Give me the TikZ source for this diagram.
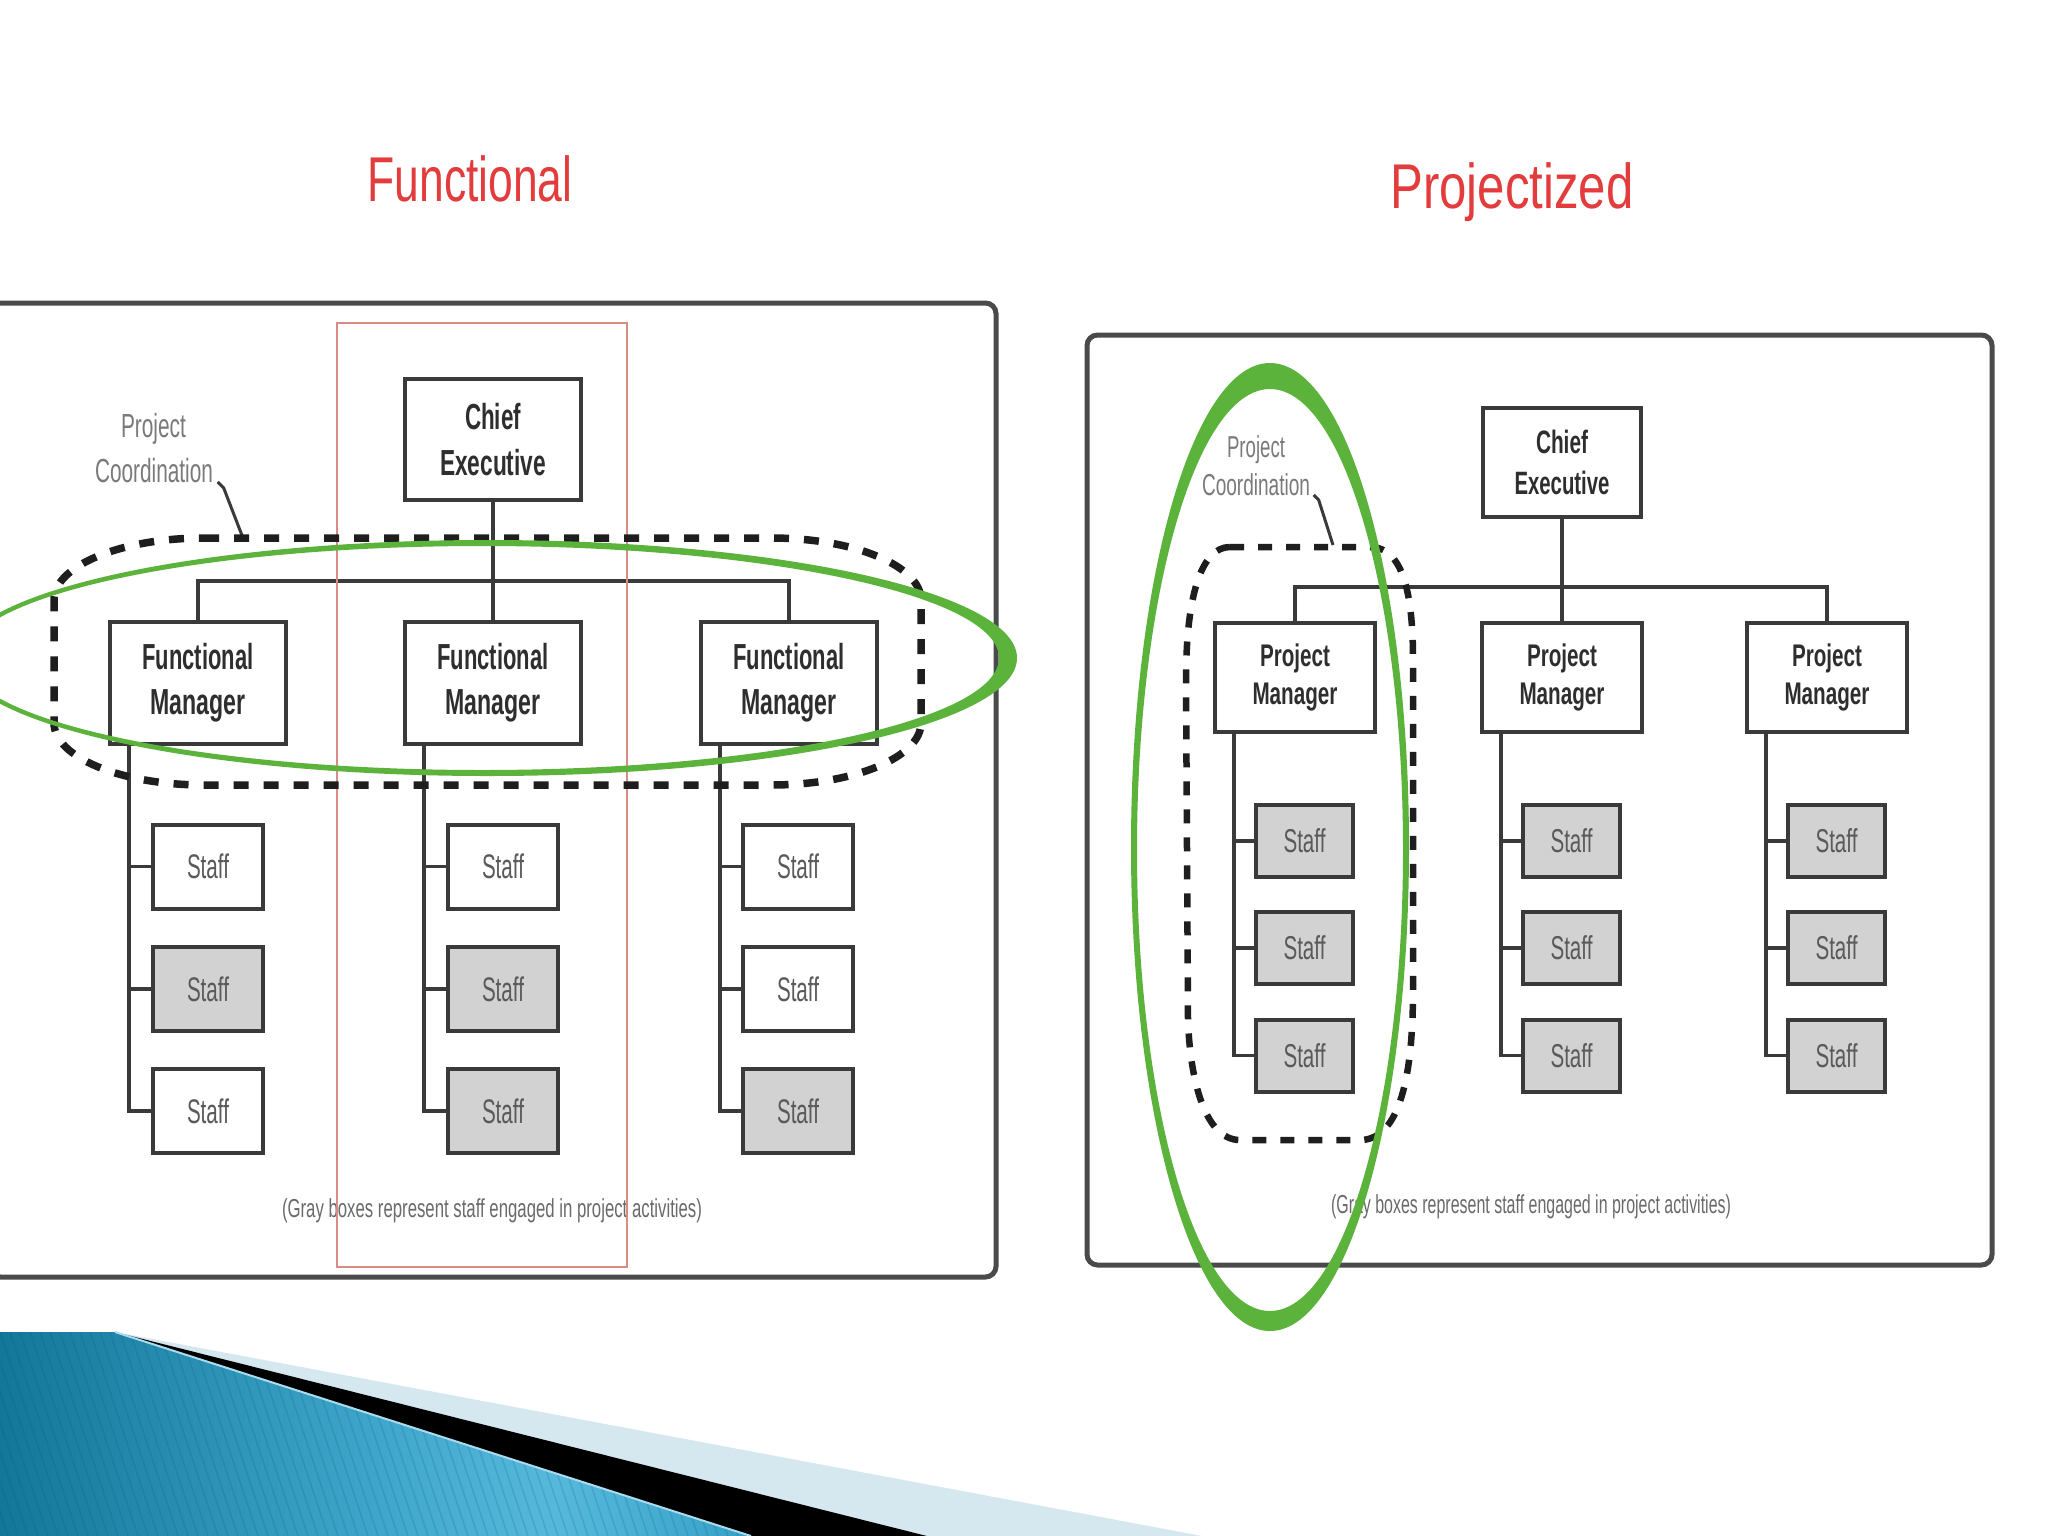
\documentclass[tikz,border=0pt]{standalone}
\usepackage{fontspec}
\setmainfont{Liberation Sans}
\usepackage{graphicx}
\newlength\pu
\setlength\pu{0.01cm}
\newcommand\fw[2]{\resizebox{#1\pu}{\height}{#2}}
\definecolor{boxc}{HTML}{3A3A3A}
\definecolor{txtc}{HTML}{2E2E2E}
\definecolor{stafftxt}{HTML}{5A5A5A}
\definecolor{grayfill}{HTML}{D2D2D2}
\definecolor{lblc}{HTML}{7A7A7A}
\definecolor{capc}{HTML}{6A6A6A}
\definecolor{greenc}{HTML}{5BB33C}
\definecolor{redr}{HTML}{D98C86}
\definecolor{titlec}{HTML}{E23C3C}
\definecolor{framec}{HTML}{4A4A4A}
\definecolor{dashc}{HTML}{1E1E1E}
\definecolor{tealA}{HTML}{075B78}
\definecolor{tealB}{HTML}{137799}
\definecolor{tealC}{HTML}{3FA6CB}
\definecolor{tealD}{HTML}{56B9DC}
\definecolor{tealE}{HTML}{2A97BE}
\definecolor{tealF}{HTML}{147FA4}
\definecolor{stripec}{HTML}{0A5A78}
\definecolor{paleblue}{HTML}{D5E8F0}
\definecolor{edgeblue}{HTML}{A9DCEE}
\pgfdeclarehorizontalshading{bluedeco}{100bp}{color(0bp)=(tealA); color(25bp)=(tealB); color(50bp)=(tealC); color(62bp)=(tealD); color(80bp)=(tealE); color(100bp)=(tealF)}
\tikzset{
  orgbox/.style={draw=boxc, line width=4\pu, fill=white, inner sep=0pt, align=center, text=txtc},
  ceL/.style={orgbox, minimum width=176\pu, minimum height=121\pu, font=\fontsize{10.3}{13.2}\selectfont\bfseries},
  fmL/.style={orgbox, minimum width=176\pu, minimum height=122\pu, font=\fontsize{10.3}{12.8}\selectfont\bfseries},
  ceR/.style={orgbox, minimum width=158\pu, minimum height=109\pu, font=\fontsize{9.2}{11.9}\selectfont\bfseries},
  pmR/.style={orgbox, minimum width=160\pu, minimum height=109\pu, font=\fontsize{8.9}{10.8}\selectfont\bfseries},
  staffL/.style={orgbox, minimum width=110\pu, minimum height=84\pu, text=stafftxt, font=\fontsize{9.7}{11}\selectfont},
  staffR/.style={orgbox, minimum width=97\pu, minimum height=72\pu, text=stafftxt, font=\fontsize{9.4}{11}\selectfont, fill=grayfill},
  gbox/.style={fill=grayfill},
  conn/.style={draw=boxc, line width=3.5\pu},
  frame/.style={draw=framec, line width=5\pu, rounded corners=3pt},
  lblL/.style={inner sep=0pt, anchor=base, text=lblc, font=\fontsize{9.5}{11}\selectfont},
  lblR/.style={inner sep=0pt, anchor=base, text=lblc, font=\fontsize{8.6}{10}\selectfont},
  leader/.style={draw=boxc, line width=3\pu},
  capt/.style={inner sep=0pt, anchor=base, text=capc, font=\fontsize{7.4}{9}\selectfont},
  title/.style={inner sep=0pt, anchor=base, text=titlec, font=\fontsize{18}{20}\selectfont},
  coordL/.style={draw=dashc, line width=7.5\pu, dash pattern=on 15\pu off 15\pu},
  coordR/.style={draw=dashc, line width=6.5\pu, dash pattern=on 14\pu off 14\pu},
}
\begin{document}
\begin{tikzpicture}[x=0.01cm, y=-0.01cm]
\useasboundingbox (0,0) rectangle (2048,1536);
\fill[white] (0,0) rectangle (2048,1536);

% titles
\node[title] (tF) at (470,201) {\fw{205}{Functional}};
\node[title] (tP) at (1512,208) {\fw{243}{Projectized}};

% ---------------- left panel ----------------
\draw[frame] (-10,303) rectangle (996,1277);

\node[ceL] (ceL) at (493,439.5) {\fw{56}{Chief}\\\fw{106}{Executive}};
\node[fmL] (fmL1) at (198,683) {\fw{111}{Functional}\\\fw{95}{Manager}};
\node[fmL] (fmL2) at (493,683) {\fw{111}{Functional}\\\fw{95}{Manager}};
\node[fmL] (fmL3) at (789,683) {\fw{111}{Functional}\\\fw{95}{Manager}};

\node[staffL] (sL11) at (208,866.5) {\fw{42}{Staff}};
\node[staffL, gbox] (sL12) at (208,989) {\fw{42}{Staff}};
\node[staffL] (sL13) at (208,1111) {\fw{42}{Staff}};
\node[staffL] (sL21) at (503,866.5) {\fw{42}{Staff}};
\node[staffL, gbox] (sL22) at (503,989) {\fw{42}{Staff}};
\node[staffL, gbox] (sL23) at (503,1111) {\fw{42}{Staff}};
\node[staffL] (sL31) at (798,866.5) {\fw{42}{Staff}};
\node[staffL] (sL32) at (798,989) {\fw{42}{Staff}};
\node[staffL, gbox] (sL33) at (798,1111) {\fw{42}{Staff}};

\coordinate (busL) at (0,581);
\draw[conn] (ceL.south) -- (fmL2.north);
\draw[conn] (fmL1.north) -- (fmL1.north |- busL) -- (fmL3.north |- busL) -- (fmL3.north);
\foreach \c in {1,2,3}{
  \coordinate (spL\c) at ([xshift=21\pu]fmL\c.south west);
  \draw[conn] (spL\c) |- (sL\c3.west);
  \draw[conn] (sL\c1.west) -- (sL\c1.west -| spL\c);
  \draw[conn] (sL\c2.west) -- (sL\c2.west -| spL\c);
}

\node[lblL] (pcL1) at (153.5,437) {\fw{65}{Project}};
\node[lblL] (pcL2) at (154,482) {\fw{118}{Coordination}};
\coordinate (leadL) at (243,538);
\draw[leader] ([xshift=4\pu]pcL2.base east) -- ++(6,6) -- (leadL);

\node[capt] (capL) at (492,1217) {\fw{420}{(Gray boxes represent staff engaged in project activities)}};

\draw[redr, line width=2\pu] (337,323) rectangle (627,1267);

\draw[coordL] (204,538) -- (771,538)
  arc[start angle=-90, end angle=0, x radius=150, y radius=62] -- (921,723)
  arc[start angle=0, end angle=90, x radius=150, y radius=62] -- (204,785)
  arc[start angle=90, end angle=180, x radius=150, y radius=62] -- (54,600)
  arc[start angle=180, end angle=270, x radius=150, y radius=62] -- cycle;

\fill[greenc, even odd rule] (488,658) ellipse [x radius=529, y radius=118]
  (482,658) ellipse [x radius=517, y radius=112];

% ---------------- right panel ----------------
\draw[frame] (1087,335) rectangle (1992,1265);

\node[ceR] (ceR) at (1562,462.5) {\fw{52}{Chief}\\\fw{95}{Executive}};
\node[pmR] (pmR1) at (1295,677.5) {\fw{70}{Project}\\\fw{85}{Manager}};
\node[pmR] (pmR2) at (1562,677.5) {\fw{70}{Project}\\\fw{85}{Manager}};
\node[pmR] (pmR3) at (1827,677.5) {\fw{70}{Project}\\\fw{85}{Manager}};

\foreach \c/\x in {1/1304.5,2/1571.5,3/1836.5}{
  \foreach \r/\y in {1/841,2/948,3/1055.5}{
    \node[staffR] (sR\c\r) at (\x,\y) {\fw{42}{Staff}};
  }
}

\coordinate (busR) at (0,587);
\draw[conn] (ceR.south) -- (pmR2.north);
\draw[conn] (pmR1.north) -- (pmR1.north |- busR) -- (pmR3.north |- busR) -- (pmR3.north);
\foreach \c in {1,2,3}{
  \coordinate (spR\c) at ([xshift=21\pu]pmR\c.south west);
  \draw[conn] (spR\c) |- (sR\c3.west);
  \draw[conn] (sR\c1.west) -- (sR\c1.west -| spR\c);
  \draw[conn] (sR\c2.west) -- (sR\c2.west -| spR\c);
}

\node[lblR] (pcR1) at (1256,457) {\fw{58}{Project}};
\node[lblR] (pcR2) at (1256,495) {\fw{108}{Coordination}};
\coordinate (leadR) at (1333,545);
\draw[leader] ([xshift=3\pu]pcR2.base east) -- ++(5,5) -- (leadR);

\node[capt] (capR) at (1531,1213) {\fw{400}{(Gray boxes represent staff engaged in project activities)}};

\draw[coordR] (1230,547) -- (1370,547)
  .. controls (1405,547) and (1413,600) .. (1413,660) -- (1413,990)
  .. controls (1413,1090) and (1395,1140) .. (1360,1140) -- (1240,1140)
  .. controls (1205,1140) and (1190,1080) .. (1188,1020) -- (1186,680)
  .. controls (1186,600) and (1200,547) .. cycle;

\fill[greenc, even odd rule] (1270,847) ellipse [x radius=139, y radius=484]
  (1270,850) ellipse [x radius=133, y radius=461];

% ---------------- bottom decoration ----------------
\begin{scope}
  \clip (0,1332) -- (115,1332) -- (751,1536) -- (0,1536) -- cycle;
  \shade[shading=bluedeco] (0,1332) rectangle (751,1536);
  \foreach \sx in {-80,-70,...,760}{
    \draw[stripec, opacity=0.18, line width=1.5\pu] (\sx,1332) -- ++(68,204);
  }
\end{scope}
\fill[paleblue] (115,1332) -- (1202,1536) -- (927,1536) -- cycle;
\fill[black] (115,1332) -- (927,1536) -- (751,1536) -- cycle;
\draw[edgeblue, line width=2\pu] (115,1332) -- (751,1536);
\end{tikzpicture}
\end{document}
